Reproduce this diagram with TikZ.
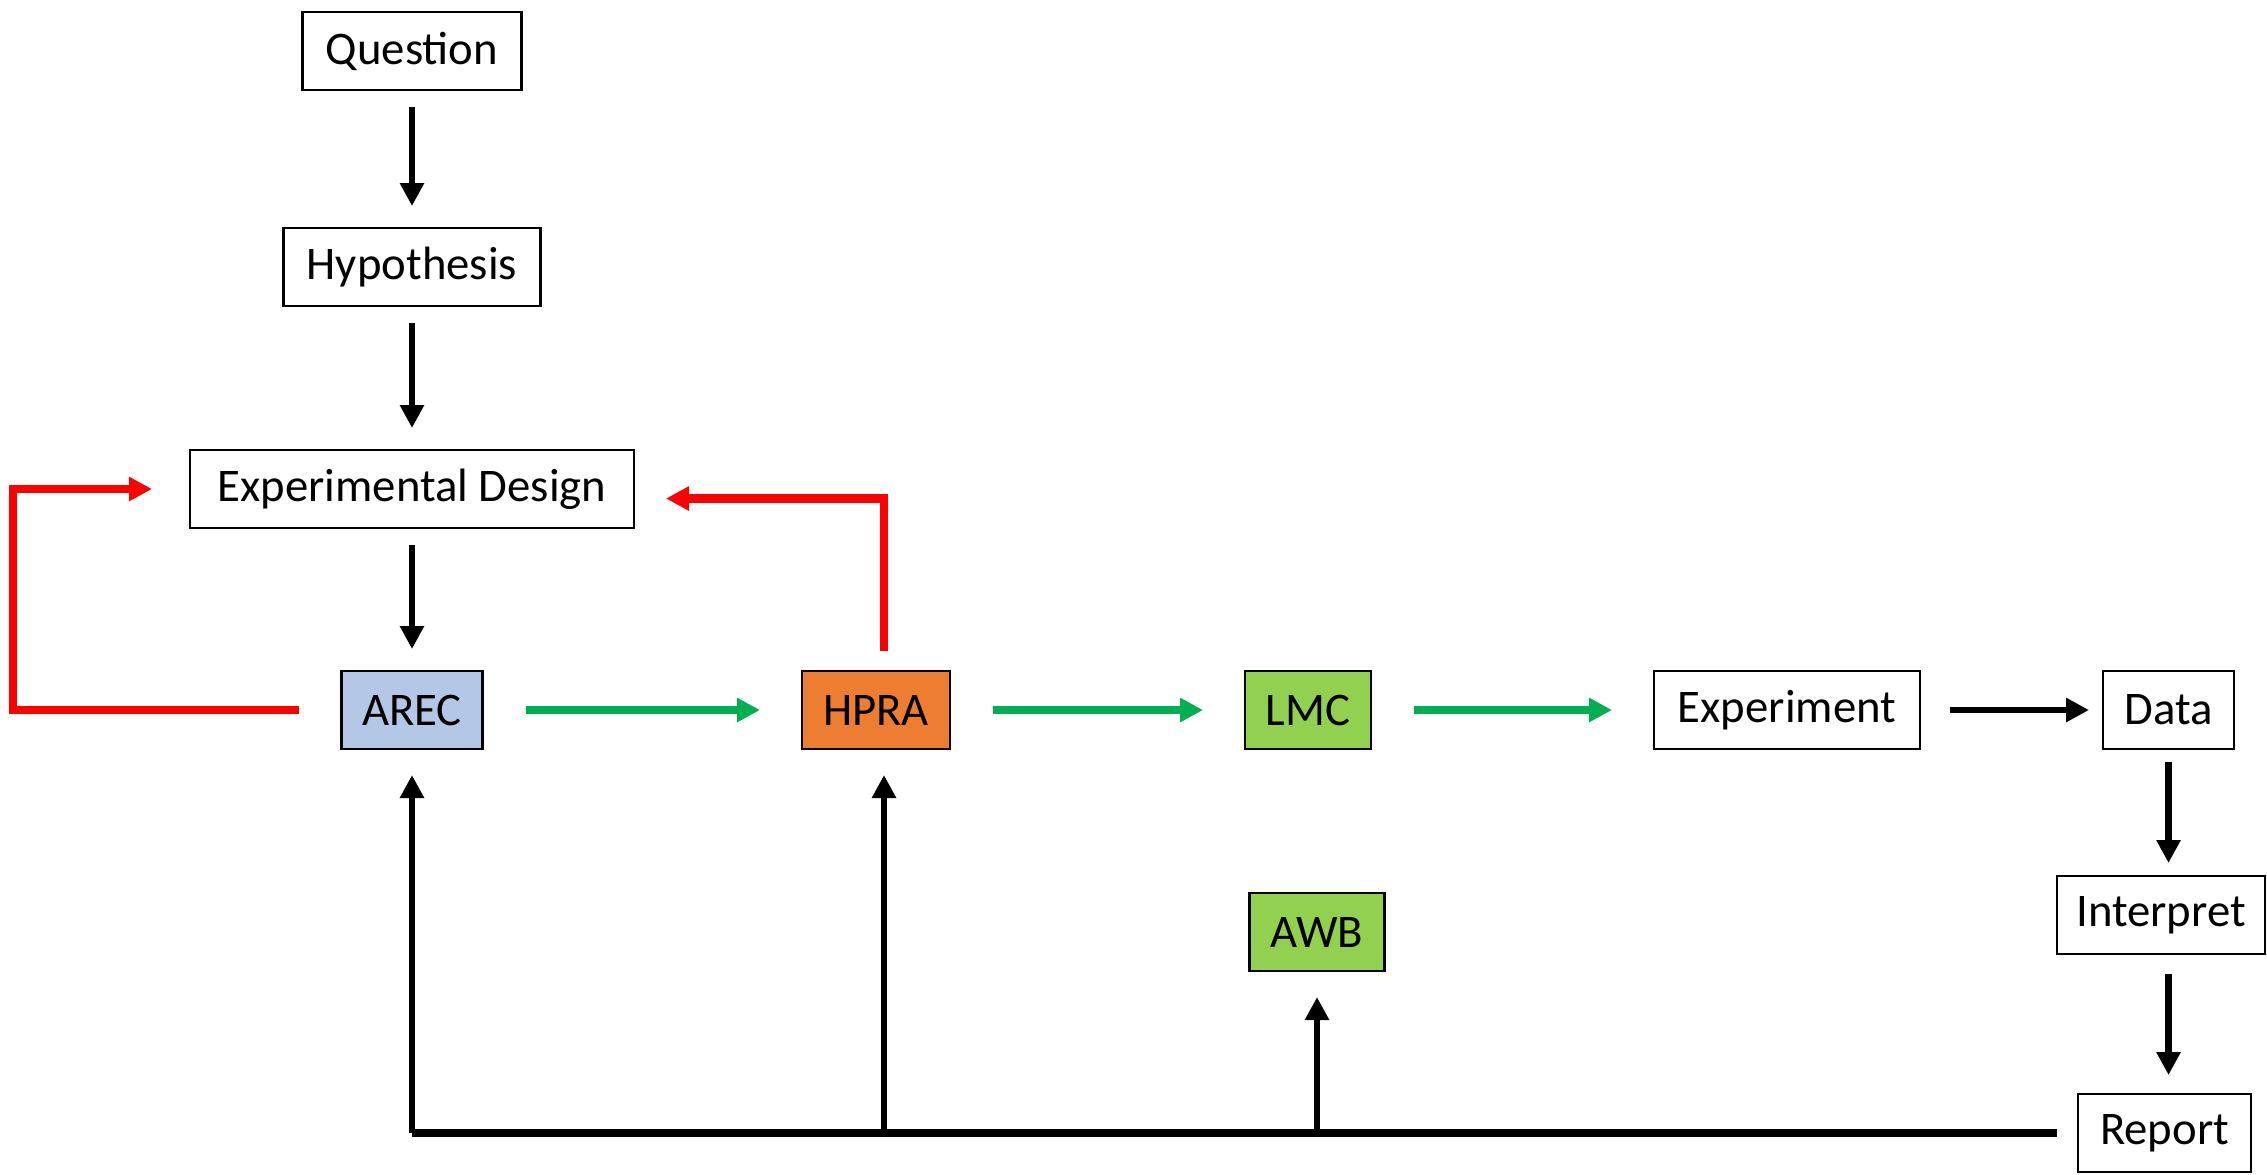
\documentclass[tikz,border=0pt]{standalone}
\usepackage{fontspec}
\setmainfont{Carlito}
\usetikzlibrary{arrows.meta,positioning}
\definecolor{arecBlue}{RGB}{180,199,231}
\definecolor{hpraOrange}{RGB}{237,125,49}
\definecolor{lmcGreen}{RGB}{146,208,80}
\definecolor{flowGreen}{RGB}{0,176,80}
\definecolor{loopRed}{RGB}{255,0,0}

\begin{document}
\begin{tikzpicture}[
        box/.style={draw,line width=0.8pt,minimum height=0.78cm,inner sep=0pt,outer sep=0pt,font=\fontsize{13.3}{16}\selectfont},
        blk/.style={-{Triangle[length=2.3mm,width=2.3mm]},line width=1.8pt,shorten <=0.17cm,shorten >=0.22cm},
        upar/.style={-{Triangle[length=2.3mm,width=2.3mm]},line width=1.8pt,shorten >=0.26cm},
        grn/.style={-{Triangle[length=2.3mm,width=2.3mm]},line width=2.1pt,draw=flowGreen,shorten <=0.43cm,shorten >=0.42cm},
        fbloop/.style={-{Triangle[length=2.3mm,width=2.3mm]},line width=2.3pt,draw=loopRed}
      ]
        \useasboundingbox (0,0) rectangle (22.67,-11.74);
        % left column
        \node[box,minimum width=2.19cm] (q) at (4.12,-0.51) {Question};
        \node[box,minimum width=2.57cm,below=1.38cm of q] (h) {Hypothesis};
        \node[box,minimum width=4.44cm,below=1.44cm of h] (ed) {Experimental Design};
        % main row
        \node[box,minimum width=1.41cm,fill=arecBlue,below=1.43cm of ed] (arec) {AREC};
        \node[box,minimum width=1.48cm,fill=hpraOrange,right=3.195cm of arec] (hpra) {HPRA};
        \node[box,minimum width=1.26cm,fill=lmcGreen,right=2.95cm of hpra] (lmc) {LMC};
        \node[box,minimum width=2.66cm,right=2.83cm of lmc] (exp) {Experiment};
        \node[box,minimum width=1.31cm,right=1.83cm of exp] (data) {Data};
        \node[box,minimum width=1.35cm,fill=lmcGreen,below=1.44cm of lmc,xshift=0.09cm] (awb) {AWB};
        % right column
        \node[box,minimum width=2.08cm,below=1.27cm of data,xshift=-0.075cm] (interp) {Interpret};
        \node[box,minimum width=1.73cm,below=1.40cm of interp,xshift=0.035cm] (report) {Report};
        \draw[blk] (q) -- (h);
        \draw[blk] (h) -- (ed);
        \draw[blk] (ed) -- (arec);
        \draw[grn] (arec) -- (hpra);
        \draw[grn] (hpra) -- (lmc);
        \draw[grn] (lmc) -- (exp);
        \draw[blk,shorten <=0.3cm,shorten >=0.14cm] (exp) -- (data);
        \draw[blk,shorten <=0.13cm,shorten >=0.13cm] (data.south) -- (data.south |- interp.north);
        \draw[blk,shorten <=0.2cm,shorten >=0.19cm] (data.south |- interp.south) -- (data.south |- report.north);
        % feedback loops
        \coordinate (lft) at (0.13,0);
        \draw[fbloop,shorten <=0.43cm,shorten >=0.38cm] (arec.west) -- (arec.west -| lft) |- (ed.west);
        \draw[fbloop,shorten <=0.2cm,shorten >=0.32cm] ([xshift=0.08cm]hpra.north) |- ([yshift=-0.095cm]ed.east);
        % report line back
        \coordinate (b1) at (arec.south |- report.west);
        \coordinate (b2) at ([xshift=0.08cm]hpra.south |- report.west);
        \coordinate (b3) at (awb.south |- report.west);
        \draw[line width=2.3pt,shorten <=0.21cm] (report.west) -- (b1);
        \draw[upar] (b1) -- (arec.south);
        \draw[upar] (b2) -- ([xshift=0.08cm]hpra.south);
        \draw[upar] (b3) -- (awb.south);
      \end{tikzpicture}
\end{document}
